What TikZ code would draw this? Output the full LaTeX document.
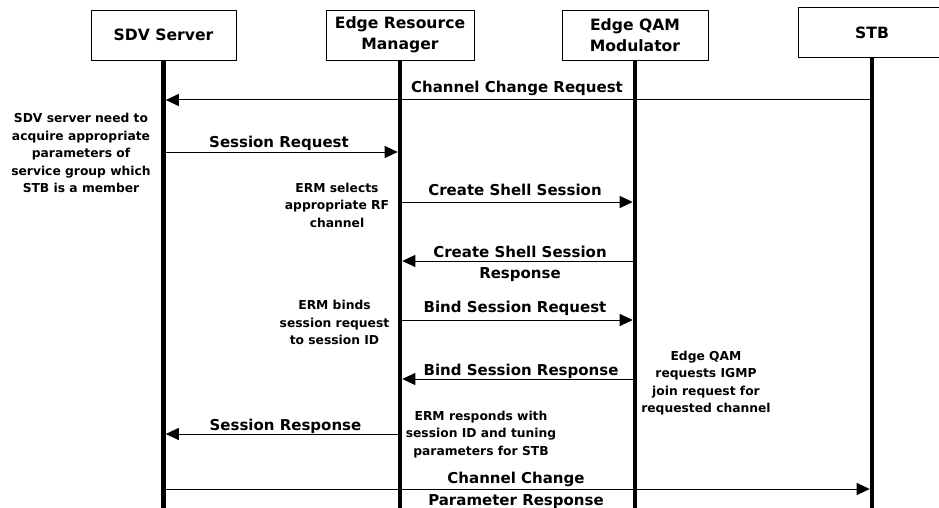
\documentclass[tikz,border=0pt]{standalone}
\usepackage{fontspec}
\setmainfont{DejaVu Sans}
\usetikzlibrary{arrows.meta}
\begin{document}
\begin{tikzpicture}[x=1pt,y=-1pt,
  actor/.style={draw, line width=0.9pt, minimum height=50pt, inner sep=0pt,
    align=center, font=\bfseries\fontsize{15.6}{21}\selectfont},
  lifeline/.style={line width=4.6pt},
  msg/.style={line width=1pt, -{Triangle[length=13pt,width=12pt]}, shorten >=2.3pt},
  lbl/.style={anchor=base, inner sep=0pt, font=\bfseries\fontsize{15}{21}\selectfont},
  note/.style={anchor=base, inner sep=0pt, align=center,
    font=\bfseries\fontsize{12.3}{17.5}\selectfont}]
\useasboundingbox[fill=white] (0,0) rectangle (939,508);

% participants
\node[actor, minimum width=145pt] (sdv) at (163.5,35) {SDV Server};
\node[actor, minimum width=148pt] (erm) at (400,35) {Edge Resource\\Manager};
\node[actor, minimum width=146pt] (qam) at (635,35) {Edge QAM\\Modulator};
\node[actor, minimum width=148pt] (stb) at (872,32.5) {STB};

% lifelines
\foreach \p in {sdv,erm,qam,stb}
  \draw[lifeline] (\p.south) -- (\p.south |- 0,512);

% messages
\draw[msg] (stb |- 0,100) -- (sdv |- 0,100);
\node[lbl] (m1) at (517,93) {Channel Change Request};

\draw[msg] (sdv |- 0,152) -- (erm |- 0,152);
\node[lbl] (m2) at (279,147) {Session Request};

\draw[msg] (erm |- 0,202) -- (qam |- 0,202);
\node[lbl] (m3) at (515,195) {Create Shell Session};

\draw[msg] (qam |- 0,261) -- (erm |- 0,261);
\node[lbl] (m4a) at (520,257) {Create Shell Session};
\node[lbl] (m4b) at (520,278) {Response};

\draw[msg] (erm |- 0,320) -- (qam |- 0,320);
\node[lbl] (m5) at (515,312) {Bind Session Request};

\draw[msg] (qam |- 0,379) -- (erm |- 0,379);
\node[lbl] (m6) at (521,375) {Bind Session Response};

\draw[msg] (erm |- 0,434) -- (sdv |- 0,434);
\node[lbl] (m7) at (285.5,430) {Session Response};

\draw[msg] (sdv |- 0,489) -- (stb |- 0,489);
\node[lbl] (m8a) at (516,483) {Channel Change};
\node[lbl] (m8b) at (516,505) {Parameter Response};

% annotations (anchored at the baseline of the last line)
\node[note] (n1) at (81,192.5) {SDV server need to\\acquire appropriate\\parameters of\\service group which\\STB is a member};
\node[note] (n2) at (337,227) {ERM selects\\appropriate RF\\channel};
\node[note] (n3) at (334.5,344.5) {ERM binds\\session request\\to session ID};
\node[note] (n4) at (481,455) {ERM responds with\\session ID and tuning\\parameters for STB};
\node[note] (n5) at (706,412.5) {Edge QAM\\requests IGMP\\join request for\\requested channel};
\end{tikzpicture}
\end{document}
